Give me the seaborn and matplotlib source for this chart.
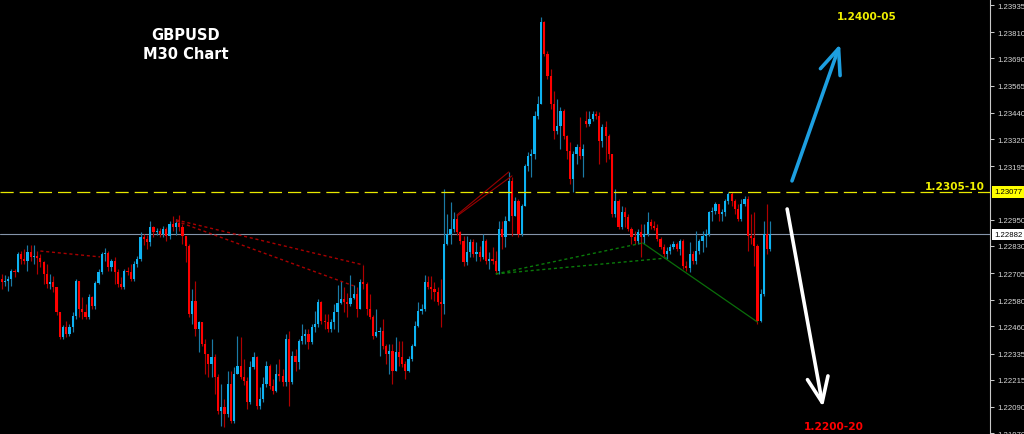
import numpy as np
import pandas as pd
import matplotlib
matplotlib.use("Agg")
import matplotlib.pyplot as plt
from matplotlib import transforms
import seaborn as sns

# ---------------- data ----------------
symbol_label = "GBPUSD"
timeframe_label = "M30 Chart"

first_open = 1.22678
close = [
    1.22664, 1.22669, 1.22678, 1.22715, 1.22710, 1.22793, 1.22770, 1.22760, 1.22802, 1.22779,
    1.22783, 1.22774, 1.22756, 1.22701, 1.22655, 1.22664, 1.22641, 1.22526, 1.22411, 1.22457,
    1.22425, 1.22457, 1.22508, 1.22669, 1.22540, 1.22526, 1.22503, 1.22595, 1.22554, 1.22659,
    1.22710, 1.22793, 1.22797, 1.22733, 1.22760, 1.22710, 1.22655, 1.22641, 1.22715, 1.22710,
    1.22678, 1.22747, 1.22770, 1.22871, 1.22861, 1.22848, 1.22916, 1.22894, 1.22898, 1.22884,
    1.22907, 1.22875, 1.22930, 1.22916, 1.22935, 1.22916, 1.22875, 1.22829, 1.22517, 1.22577,
    1.22448, 1.22480, 1.22379, 1.22334, 1.22288, 1.22320, 1.22228, 1.22072, 1.22090, 1.22058,
    1.22196, 1.22026, 1.22242, 1.22278, 1.22228, 1.22209, 1.22113, 1.22274, 1.22320, 1.22095,
    1.22127, 1.22196, 1.22278, 1.22186, 1.22164, 1.22242, 1.22232, 1.22205, 1.22402, 1.22205,
    1.22324, 1.22297, 1.22393, 1.22416, 1.22425, 1.22389, 1.22457, 1.22471, 1.22572, 1.22485,
    1.22480, 1.22448, 1.22480, 1.22526, 1.22568, 1.22586, 1.22572, 1.22563, 1.22591, 1.22609,
    1.22540, 1.22664, 1.22655, 1.22540, 1.22503, 1.22416, 1.22434, 1.22439, 1.22370, 1.22334,
    1.22347, 1.22255, 1.22343, 1.22320, 1.22288, 1.22255, 1.22311, 1.22370, 1.22462, 1.22531,
    1.22540, 1.22664, 1.22641, 1.22632, 1.22618, 1.22572, 1.22563, 1.22838, 1.22884, 1.22907,
    1.22953, 1.22894, 1.22852, 1.22756, 1.22802, 1.22848, 1.22793, 1.22802, 1.22779, 1.22852,
    1.22760, 1.22770, 1.22760, 1.22715, 1.22907, 1.22871, 1.22944, 1.23128, 1.22967, 1.23036,
    1.22884, 1.23013, 1.23196, 1.23242, 1.23252, 1.23426, 1.23481, 1.23857, 1.23711, 1.23610,
    1.23481, 1.23357, 1.23380, 1.23449, 1.23334, 1.23265, 1.23137, 1.23252, 1.23284, 1.23242,
    1.23274, 1.23389, 1.23412, 1.23435, 1.23426, 1.23311, 1.23376, 1.23334, 1.23252, 1.22976,
    1.23036, 1.22916, 1.22985, 1.22962, 1.22907, 1.22871, 1.22852, 1.22894, 1.22871, 1.22884,
    1.22939, 1.22921, 1.22912, 1.22861, 1.22825, 1.22793, 1.22806, 1.22825, 1.22838, 1.22815,
    1.22852, 1.22737, 1.22728, 1.22793, 1.22760, 1.22806, 1.22852, 1.22875, 1.22884, 1.22985,
    1.22990, 1.23022, 1.22976, 1.22985, 1.23036, 1.23068, 1.23036, 1.22999, 1.22953, 1.23022,
    1.23045, 1.22875, 1.22866, 1.22829, 1.22485, 1.22609, 1.22884, 1.22815, 1.22882,
]
high = [
    1.22701, 1.22696, 1.22692, 1.22724, 1.22724, 1.22802, 1.22806, 1.22815, 1.22834, 1.22834,
    1.22834, 1.22806, 1.22793, 1.22760, 1.22747, 1.22701, 1.22692, 1.22641, 1.22526, 1.22467,
    1.22485, 1.22471, 1.22526, 1.22678, 1.22669, 1.22595, 1.22563, 1.22609, 1.22600, 1.22669,
    1.22724, 1.22802, 1.22820, 1.22806, 1.22770, 1.22779, 1.22724, 1.22687, 1.22724, 1.22733,
    1.22747, 1.22760, 1.22783, 1.22894, 1.22884, 1.22880, 1.22944, 1.22921, 1.22912, 1.22912,
    1.22921, 1.22916, 1.22944, 1.22967, 1.22953, 1.22972, 1.22930, 1.22875, 1.22838, 1.22632,
    1.22669, 1.22485, 1.22480, 1.22402, 1.22334, 1.22402, 1.22334, 1.22242, 1.22196, 1.22127,
    1.22255, 1.22255, 1.22274, 1.22416, 1.22411, 1.22311, 1.22228, 1.22301, 1.22343, 1.22324,
    1.22182, 1.22228, 1.22301, 1.22288, 1.22219, 1.22288, 1.22311, 1.22265, 1.22425, 1.22439,
    1.22347, 1.22356, 1.22402, 1.22471, 1.22448, 1.22448, 1.22471, 1.22531, 1.22586, 1.22577,
    1.22517, 1.22517, 1.22494, 1.22563, 1.22650, 1.22669, 1.22641, 1.22613, 1.22696, 1.22650,
    1.22641, 1.22678, 1.22742, 1.22664, 1.22609, 1.22513, 1.22540, 1.22457, 1.22494, 1.22379,
    1.22379, 1.22379, 1.22411, 1.22393, 1.22393, 1.22301, 1.22324, 1.22379, 1.22485, 1.22572,
    1.22563, 1.22696, 1.22692, 1.22692, 1.22664, 1.22641, 1.22678, 1.23091, 1.22976, 1.23031,
    1.22985, 1.22976, 1.22898, 1.22875, 1.22875, 1.22861, 1.22861, 1.22848, 1.22829, 1.22884,
    1.22861, 1.22802, 1.22825, 1.22806, 1.22944, 1.22944, 1.22967, 1.23169, 1.23146, 1.23054,
    1.23045, 1.23022, 1.23206, 1.23261, 1.23274, 1.23449, 1.23518, 1.23880, 1.23862, 1.23724,
    1.23642, 1.23541, 1.23504, 1.23468, 1.23458, 1.23339, 1.23306, 1.23265, 1.23297, 1.23421,
    1.23297, 1.23449, 1.23449, 1.23449, 1.23449, 1.23444, 1.23389, 1.23403, 1.23343, 1.23252,
    1.23091, 1.23045, 1.23013, 1.23008, 1.22976, 1.22916, 1.22898, 1.22907, 1.22930, 1.22930,
    1.22985, 1.22953, 1.22944, 1.22930, 1.22871, 1.22838, 1.22825, 1.22838, 1.22852, 1.22848,
    1.22861, 1.22861, 1.22760, 1.22848, 1.22806, 1.22898, 1.22861, 1.22898, 1.22907, 1.22990,
    1.23008, 1.23031, 1.23022, 1.22999, 1.23045, 1.23077, 1.23077, 1.23045, 1.23022, 1.23045,
    1.23059, 1.23059, 1.22976, 1.22985, 1.22838, 1.22632, 1.22944, 1.23022, 1.22944,
]
low = [
    1.22632, 1.22646, 1.22623, 1.22646, 1.22687, 1.22710, 1.22747, 1.22747, 1.22715, 1.22760,
    1.22747, 1.22701, 1.22733, 1.22655, 1.22636, 1.22632, 1.22618, 1.22513, 1.22402, 1.22402,
    1.22411, 1.22416, 1.22434, 1.22494, 1.22503, 1.22494, 1.22494, 1.22494, 1.22540, 1.22540,
    1.22655, 1.22701, 1.22760, 1.22715, 1.22715, 1.22655, 1.22641, 1.22632, 1.22632, 1.22696,
    1.22669, 1.22669, 1.22733, 1.22760, 1.22834, 1.22815, 1.22829, 1.22871, 1.22880, 1.22871,
    1.22871, 1.22852, 1.22861, 1.22898, 1.22880, 1.22898, 1.22838, 1.22756, 1.22503, 1.22471,
    1.22416, 1.22343, 1.22370, 1.22242, 1.22228, 1.22228, 1.22150, 1.22058, 1.22003, 1.21999,
    1.22045, 1.22017, 1.22017, 1.22242, 1.22219, 1.22191, 1.22081, 1.22104, 1.22265, 1.22081,
    1.22081, 1.22113, 1.22182, 1.22173, 1.22150, 1.22159, 1.22209, 1.22186, 1.22186, 1.22095,
    1.22196, 1.22255, 1.22265, 1.22379, 1.22379, 1.22356, 1.22379, 1.22434, 1.22457, 1.22471,
    1.22448, 1.22434, 1.22434, 1.22448, 1.22434, 1.22563, 1.22526, 1.22503, 1.22554, 1.22586,
    1.22503, 1.22540, 1.22632, 1.22513, 1.22494, 1.22402, 1.22411, 1.22324, 1.22356, 1.22288,
    1.22242, 1.22196, 1.22255, 1.22278, 1.22274, 1.22219, 1.22251, 1.22301, 1.22370, 1.22457,
    1.22517, 1.22531, 1.22632, 1.22586, 1.22577, 1.22559, 1.22457, 1.22517, 1.22834, 1.22838,
    1.22894, 1.22880, 1.22838, 1.22737, 1.22742, 1.22779, 1.22779, 1.22760, 1.22760, 1.22770,
    1.22747, 1.22724, 1.22747, 1.22701, 1.22701, 1.22815, 1.22825, 1.22944, 1.22875, 1.22967,
    1.22871, 1.22875, 1.23013, 1.23173, 1.23146, 1.23229, 1.23412, 1.23481, 1.23701, 1.23596,
    1.23458, 1.23320, 1.23343, 1.23274, 1.23320, 1.23229, 1.23114, 1.23077, 1.23206, 1.23229,
    1.23146, 1.23376, 1.23380, 1.23403, 1.23412, 1.23206, 1.23284, 1.23215, 1.23229, 1.22962,
    1.22962, 1.22907, 1.22907, 1.22916, 1.22898, 1.22838, 1.22838, 1.22838, 1.22779, 1.22838,
    1.22875, 1.22907, 1.22903, 1.22852, 1.22815, 1.22779, 1.22770, 1.22793, 1.22815, 1.22806,
    1.22788, 1.22724, 1.22715, 1.22710, 1.22747, 1.22747, 1.22793, 1.22802, 1.22825, 1.22875,
    1.22944, 1.22976, 1.22944, 1.22944, 1.22967, 1.23022, 1.23013, 1.22976, 1.22944, 1.22944,
    1.23013, 1.22806, 1.22838, 1.22737, 1.22471, 1.22480, 1.22600, 1.22793, 1.22806,
]
gap_opens = {181: 1.23403}

price_ticks = [1.23935, 1.23810, 1.23690, 1.23565, 1.23440, 1.23320, 1.23195,
               1.22950, 1.22830, 1.22705, 1.22580, 1.22460, 1.22335, 1.22215,
               1.22090, 1.21970]
resistance_level = 1.23077
bid_level = 1.22882

# pattern lines (bar index, price) -> (bar index, price)
red_dotted_lines = [(12, 1.22806, 30.5, 1.22779),
                    (54, 1.22949, 112, 1.22742),
                    (54, 1.22944, 109, 1.22646)]
red_solid_lines = [(141, 1.22972, 157, 1.23169),
                   (141, 1.22967, 158, 1.23151)]
green_dotted_lines = [(153, 1.22701, 198.5, 1.22843),
                      (153, 1.22701, 206, 1.22774)]
green_solid_lines = [(198.5, 1.22843, 234, 1.22480)]
up_arrow = (244.7, 1.23128, 259.6, 1.23756)
down_arrow = (243.2, 1.22999, 254.3, 1.22090)

target_up_text = "1.2400-05"
pivot_text = "1.2305-10"
target_down_text = "1.2200-20"

# ---------------- style ----------------
sns.set_theme(style="dark", rc={"axes.facecolor": "black",
                                "figure.facecolor": "black",
                                "axes.grid": False})
plt.rcParams["font.family"] = ["DejaVu Sans"]
plt.rcParams["lines.scale_dashes"] = False

BULL = "#0db2f2"
BEAR = "#ff0000"
BULL_WICK = "#1b7aa6"
BEAR_WICK = "#b00000"

fig = plt.figure(figsize=(10.24, 4.35), dpi=100)
fig.patch.set_facecolor("black")
ax = fig.add_axes([0, 0, 990 / 1024, 1])
ax.set_facecolor("black")

c = np.array(close)
o = np.concatenate([[first_open], c[:-1]])
for k, v in gap_opens.items():
    o[k] = v
h = np.maximum.reduce([np.array(high), o, c])
l = np.minimum.reduce([np.array(low), o, c])
idx = np.arange(len(c))
bull = c >= o

df = pd.DataFrame({"idx": idx, "open": o, "high": h, "low": l, "close": c, "bull": bull})

# wicks
ax.vlines(df["idx"], df["low"], df["high"],
          colors=np.where(df["bull"], BULL_WICK, BEAR_WICK), linewidth=0.85, zorder=2)
# bodies
body_h = np.maximum(np.abs(df["close"] - df["open"]), 0.00003)
ax.bar(df["idx"], body_h, bottom=np.minimum(df["open"], df["close"]), width=0.68,
       color=np.where(df["bull"], BULL, BEAR), linewidth=0, zorder=3)

# horizontal levels
ax.axhline(resistance_level, color="#e8e800", linewidth=0.9, dashes=(9.5, 4.3), zorder=4)
ax.axhline(bid_level, color="#8494aa", linewidth=0.8, zorder=1)

# pattern lines
for x0, p0, x1, p1 in red_dotted_lines:
    sns.lineplot(x=[x0, x1], y=[p0, p1], ax=ax, color="#a80000", linewidth=1.0,
                 zorder=5).lines[-1].set_dashes((2.2, 2.0))
for x0, p0, x1, p1 in red_solid_lines:
    sns.lineplot(x=[x0, x1], y=[p0, p1], ax=ax, color="#9a0000", linewidth=0.8, zorder=5)
for x0, p0, x1, p1 in green_dotted_lines:
    sns.lineplot(x=[x0, x1], y=[p0, p1], ax=ax, color="#0a7a0a", linewidth=1.0,
                 zorder=5).lines[-1].set_dashes((2.2, 2.0))
for x0, p0, x1, p1 in green_solid_lines:
    sns.lineplot(x=[x0, x1], y=[p0, p1], ax=ax, color="#0a6e0a", linewidth=0.9, zorder=5)

# arrows
for (x0, p0, x1, p1), col in [(up_arrow, "#1d9fe0"), (down_arrow, "#ffffff")]:
    ax.annotate("", xy=(x1, p1), xytext=(x0, p0),
                arrowprops=dict(arrowstyle="->,head_length=0.6,head_width=0.25",
                                color=col, lw=2.6, shrinkA=0, shrinkB=0,
                                mutation_scale=30), zorder=6)

ax.set_xlim(-0.5, 306)
ax.set_ylim(1.21966, 1.23963)

# price axis on the right
for side in ["left", "top", "bottom"]:
    ax.spines[side].set_visible(False)
ax.spines["right"].set_visible(True)
ax.spines["right"].set_color("#c8c8c8")
ax.spines["right"].set_linewidth(0.8)
ax.set_xticks([])
ax.yaxis.tick_right()
ax.set_yticks(price_ticks)
ax.set_yticklabels([f"{p:.5f}" for p in price_ticks])
ax.tick_params(axis="y", direction="out", length=3, width=0.75, color="#c8c8c8",
               labelcolor="#d8d8d8", labelsize=5.6, pad=2)
for lab in ax.get_yticklabels():
    lab.set_fontfamily("Liberation Sans")
ax.set_xlabel("")
ax.set_ylabel("")

trans = transforms.blended_transform_factory(ax.transAxes, ax.transData)
ax.text(1.0 + 4 / 990, resistance_level, f"{resistance_level:.5f}", transform=trans,
        ha="left", va="center", fontsize=5.6, family="Liberation Sans", color="black",
        bbox=dict(boxstyle="square,pad=0.3", fc="#ffff00", ec="none"), clip_on=False)
ax.text(1.0 + 4 / 990, bid_level, f"{bid_level:.5f}", transform=trans,
        ha="left", va="center", fontsize=5.6, family="Liberation Sans", color="black",
        bbox=dict(boxstyle="square,pad=0.3", fc="#ffffff", ec="none"), clip_on=False)

# titles and annotations
fig.text(186 / 1024, 1 - 40 / 435, symbol_label, color="white", fontsize=10.5,
         fontweight="bold", ha="center", va="baseline")
fig.text(185.5 / 1024, 1 - 59.3 / 435, timeframe_label, color="white", fontsize=10.5,
         fontweight="bold", ha="center", va="baseline")
fig.text(867 / 1024, 1 - 20 / 435, target_up_text, color="#f0f000", fontsize=7.6,
         fontweight="bold", ha="center", va="baseline")
fig.text(955 / 1024, 1 - 190 / 435, pivot_text, color="#f0f000", fontsize=7.6,
         fontweight="bold", ha="center", va="baseline")
fig.text(834 / 1024, 1 - 430 / 435, target_down_text, color="#ff0000", fontsize=7.6,
         fontweight="bold", ha="center", va="baseline")

fig.savefig("out.png", dpi=100, facecolor="black")
